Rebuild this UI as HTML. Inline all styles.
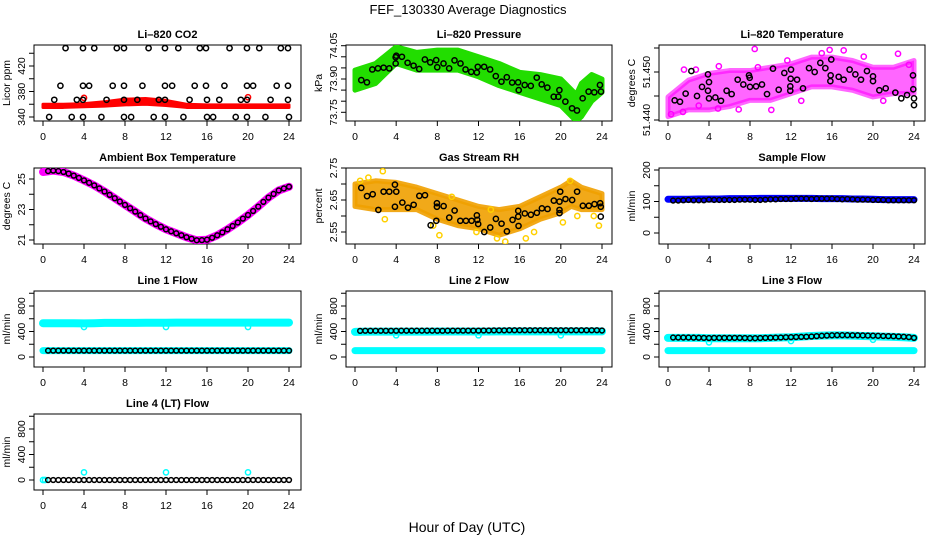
<!DOCTYPE html>
<html><head><meta charset="utf-8"><style>
html,body{margin:0;padding:0;background:#fff}
svg{display:block;font-family:"Liberation Sans",Arial,sans-serif}
.tt{font-weight:bold;font-size:11px}
.tk{font-size:10.5px}
</style></head><body>
<svg id="chart" width="936" height="540" viewBox="0 0 936 540">
<text x="468" y="14" text-anchor="middle" font-size="13">FEF_130330  Average Diagnostics</text>
<text x="467" y="532" text-anchor="middle" font-size="14">Hour of Day (UTC)</text>
</svg>
<script>
// ---------- data ----------
const H = [0.5,1,1.5,2,2.5,3,3.5,4,4.5,5,5.5,6,6.5,7,7.5,8,8.5,9,9.5,10,10.5,11,11.5,12,12.5,13,13.5,14,14.5,15,15.5,16,16.5,17,17.5,18,18.5,19,19.5,20,20.5,21,21.5,22,22.5,23,23.5,24];
const HR = [0,1,2,3,4,5,6,7,8,9,10,11,12,13,14,15,16,17,18,19,20,21,22,23,24];

// CO2
const co2BandHours = [0,2,4,6,8,10,12,14,16,18,20,22,24];
const co2BandLo = [355,355,356,357,359,360,358,355,355,355,355,355,355];
const co2BandHi = [360,360,361,364,368,369,366,360,359,359,359,359,359];
const co2TopH = [2.2,3.9,5.0,7.2,7.9,10.3,11.9,13.2,15.3,15.9,18.2,19.9,21.1,23.2,23.9];
const co2MidH = [1.7,3.9,4.5,6.8,7.9,9.7,11.9,12.6,14.8,15.9,17.7,19.9,20.5,22.8,23.9];
const co2LowH = [1.1,3.3,3.9,6.2,7.9,9.2,11.3,11.9,14.3,16.0,17.2,19.3,19.9,22.2,23.9];
const co2BotH = [0.6,2.8,3.9,5.7,7.9,8.6,10.8,11.9,13.7,16.0,16.6,18.8,19.9,21.7,24.0];
const co2Levels = [448,389,367,340];

// Pressure
const presBandH = [0,2,4,6,8,10,12,14,16,18,20,21.5,22,23,24];
const presHi = [73.94,73.97,74.045,74.02,74.03,74.03,74.0,73.97,73.93,73.92,73.9,73.83,73.88,73.92,73.9];
const presLo = [73.85,73.88,73.97,73.94,73.94,73.94,73.91,73.87,73.84,73.81,73.78,73.71,73.73,73.8,73.84];
const presPtH = [0.61,1.16,1.68,2.23,2.78,3.33,3.95,3.95,4.01,4.56,5.11,5.69,6.24,6.79,7.31,7.89,7.99,8.6,9.15,9.67,10.25,10.74,11.29,11.84,11.93,12.55,13.13,13.68,14.23,14.75,15.27,15.85,15.91,16.49,17.08,17.66,18.14,18.69,19.31,19.76,19.86,20.44,21.09,21.57,22.12,22.7,23.25,23.8,23.9];
const presPtV = [73.895,73.885,73.943,73.948,73.951,73.948,73.970,73.998,74.005,74.0,73.973,73.96,73.945,73.988,73.975,73.985,73.953,73.97,73.948,73.984,73.97,73.943,73.932,73.929,73.955,73.955,73.943,73.913,73.888,73.908,73.884,73.885,73.85,73.873,73.869,73.906,73.876,73.861,73.82,73.82,73.85,73.798,73.768,73.758,73.813,73.843,73.84,73.873,73.843];

// Li-820 temperature
const tBandH = [0,2,4,6,8,10,12,14,16,18,20,22,24];
const tHi = [51.4448,51.4483,51.4497,51.4503,51.4503,51.4510,51.4517,51.4531,51.4531,51.4524,51.4510,51.4510,51.4524];
const tLo = [51.4407,51.4421,51.4421,51.4428,51.4441,51.4441,51.4455,51.4469,51.4469,51.4462,51.4448,51.4455,51.4455];
const tOutH = [8.46,1.56,2.72,4.96,11.64,15.0,15.77,17.14,19.1,22.44,4.88,6.9,10.08,8.77,1.46,0.3,3.0,13.0,21.0,23.5];
const tOutV = [51.4548,51.4505,51.4505,51.4512,51.4524,51.4539,51.4546,51.4545,51.4532,51.4538,51.4424,51.4422,51.4421,51.4510,51.4417,51.4412,51.4430,51.4440,51.4440,51.4515];
const tPtH = [0.65,1.17,1.72,2.28,2.83,3.32,3.9,3.9,4.0,4.0,4.62,5.17,5.72,6.21,6.8,7.35,7.9,7.97,8.0,8.59,9.17,9.66,10.24,10.8,11.35,11.93,11.93,11.97,12.0,12.59,13.17,13.76,14.31,14.86,15.35,15.84,15.87,15.93,16.65,17.14,17.72,18.28,18.83,19.41,20.0,20.0,20.62,21.24,22.18,22.76,23.32,23.9,23.93,24.0,24.0];
const tPtV = [51.4441,51.4438,51.4455,51.4502,51.4450,51.4469,51.4495,51.4461,51.4479,51.4445,51.4447,51.4440,51.4461,51.4454,51.4484,51.4474,51.4493,51.4488,51.4469,51.4470,51.4474,51.4454,51.4507,51.4463,51.4498,51.4461,51.4470,51.4486,51.4505,51.4484,51.4466,51.4508,51.4500,51.4519,51.4508,51.4481,51.4493,51.4526,51.4490,51.4484,51.4505,51.4495,51.4484,51.4502,51.4491,51.4481,51.4462,51.4466,51.4457,51.4445,51.4452,51.4493,51.4464,51.4445,51.4431];

// Ambient box temperature
const ambHourly = [25.46,25.55,25.46,25.22,24.91,24.58,24.18,23.74,23.3,22.86,22.41,22.04,21.7,21.44,21.18,20.98,21.02,21.31,21.7,22.15,22.64,23.19,23.78,24.25,24.49];
const ambPts = [25.52,25.55,25.52,25.46,25.35,25.22,25.07,24.91,24.75,24.58,24.38,24.18,23.96,23.74,23.52,23.3,23.08,22.86,22.63,22.41,22.22,22.04,21.87,21.7,21.57,21.44,21.31,21.18,21.08,20.98,20.99,21.02,21.15,21.31,21.5,21.7,21.92,22.15,22.4,22.64,22.9,23.19,23.5,23.78,24.02,24.25,24.38,24.49];

// Gas stream RH
const rhBandH = [0,2,4,6,8,10,12,14,16,18,20,21,22,24];
const rhHi = [2.70,2.71,2.705,2.69,2.67,2.65,2.63,2.62,2.63,2.66,2.69,2.71,2.69,2.67];
const rhLo = [2.63,2.62,2.62,2.62,2.59,2.57,2.56,2.54,2.56,2.59,2.61,2.63,2.62,2.62];
const rhPtH = [0.61,1.17,1.72,2.27,2.78,3.33,3.88,3.88,4.01,4.6,5.15,5.7,6.25,6.8,7.35,7.9,7.96,7.96,8.61,9.16,9.68,10.23,10.78,11.33,11.84,11.88,11.97,12.56,13.14,13.69,14.24,14.76,15.31,15.86,15.86,15.89,16.5,17.09,17.67,18.16,18.71,19.32,19.87,19.87,19.87,19.94,20.45,21.1,21.58,22.14,22.72,23.27,23.82,23.88,23.88];
const rhPtV = [2.688,2.662,2.668,2.619,2.676,2.676,2.698,2.629,2.676,2.642,2.626,2.635,2.663,2.665,2.571,2.585,2.64,2.629,2.631,2.595,2.617,2.585,2.585,2.585,2.602,2.588,2.575,2.55,2.564,2.591,2.576,2.552,2.588,2.616,2.598,2.569,2.608,2.604,2.61,2.624,2.622,2.648,2.645,2.619,2.609,2.676,2.653,2.65,2.676,2.632,2.632,2.637,2.64,2.629,2.598];
const rhOutH = [0.5,1.3,2.7,2.9,7.6,8.2,9.4,11.8,13.2,13.8,14.6,16.6,17.4,20.2,20.9,21.6,23.2,23.7];
const rhOutV = [2.71,2.72,2.74,2.59,2.57,2.54,2.66,2.55,2.62,2.53,2.52,2.53,2.55,2.58,2.71,2.60,2.60,2.57];

// Sample flow
const sfBlue = [107,107,107,108,108,108,109,109,109,110,110,110,110,110,110,109,109,109,108,108,107,106,106,106,106];
const sfPts = [103,103,104,105,104,104,104,106,105,105,105,105,105,106,106,106,105,105,106,107,107,108,108,108,109,109,109,108,109,109,109,109,108,107,108,107,106,106,106,105,105,105,104,104,104,104,104,104];

// Line flows
const l1Cyan = [530,530,530,530,528,530,535,535,535,535,538,538,538,540,540,540,540,540,540,540,540,540,540,540,540];
const l1Low = [100,100,100,100,100,100,100,100,100,100,100,100,100,100,100,100,100,100,100,100,100,100,100,100,100];
const l1Pts = [100,100,100,100,100,100,100,100,100,100,100,100,100,100,100,100,100,100,100,100,100,100,100,100,100,100,100,100,100,100,100,100,100,100,100,100,100,100,100,100,100,100,100,100,100,100,100,100];
const l1DipH = [4,12,20];
const l1DipV = [470,470,470];
const l2Cyan = [395,398,398,398,398,398,398,398,400,400,400,400,400,400,402,402,402,402,402,402,402,402,402,402,402];
const l2Pts = [410,412,412,412,412,412,412,412,413,413,413,413,413,413,413,412,412,413,414,414,414,414,414,414,416,416,418,418,418,420,420,420,420,420,420,420,420,420,420,420,420,420,420,420,420,420,420,415];
const l2DipH = [4,12,20];
const l2DipV = [340,340,340];
const l3Cyan = [300,300,300,300,295,295,295,295,295,295,300,305,310,320,330,335,340,340,335,330,325,320,315,310,300];
const l3Pts = [305,305,305,305,303,302,300,298,300,300,300,300,300,300,298,295,295,298,300,302,304,306,310,312,314,316,318,322,328,332,336,340,342,342,342,341,340,338,336,334,332,330,328,326,322,318,312,300];
const l3DipH = [4,12,20];
const l3DipV = [230,250,270];
const l4Pts = [0,0,0,0,0,0,0,0,0,0,0,0,0,0,0,0,0,0,0,0,0,0,0,0,0,0,0,0,0,0,0,0,0,0,0,0,0,0,0,0,0,0,0,0,0,0,0,0];
const l4SpikeH = [4,12,20];
const l4SpikeV = [120,120,120];

// ---------- drawing ----------
const NS = "http://www.w3.org/2000/svg";
const svg = document.getElementById('chart');
const cols = [{b0:34,b1:301,x0:43,x1:289},{b0:346,b1:612,x0:355,x1:602},{b0:659,b1:925,x0:668,x1:914}];
const tops = [45,168,291,414];
const BH = 76;
function mk(tag, attrs, parent){const e=document.createElementNS(NS,tag);for(const k in attrs)e.setAttribute(k,attrs[k]);(parent||svg).appendChild(e);return e;}

function panel(r,c,title,ylab,yref,ticks,labels,name){
  const col=cols[c], top=tops[r], bot=top+BH;
  const g=mk('g',{});
  
  
  const xs=h=>col.x0+(col.x1-col.x0)*h/24;
  const [v0,p0,v1,p1]=yref;
  const ys=v=>top+p0+(v-v0)*(p1-p0)/(v1-v0);
  const t=mk('text',{x:(col.b0+col.b1)/2,y:top-7,'text-anchor':'middle','class':'tt'},g);
  t.textContent=title;
  
  
  const yl=mk('text',{transform:`translate(${col.b0-24},${top+BH/2}) rotate(-90)`,'text-anchor':'middle','font-size':'10.5'},g);
  yl.textContent=ylab;
  
  
  const ax=mk('g',{stroke:'#000','stroke-width':1,fill:'none'},g);
  
  
  mk('rect',{x:col.b0,y:top,width:col.b1-col.b0,height:BH},ax);
  [0,4,8,12,16,20,24].forEach(h=>{
    mk('line',{x1:xs(h),x2:xs(h),y1:bot,y2:bot+5},ax);
    const tl=mk('text',{x:xs(h),y:bot+19,'text-anchor':'middle','class':'tk'},g);
    tl.textContent=h;
    
    
  });
  ticks.forEach(v=>{mk('line',{x1:col.b0-5,x2:col.b0,y1:ys(v),y2:ys(v)},ax);});
  labels.forEach(v=>{
    const tl=mk('text',{transform:`translate(${col.b0-9},${ys(v)}) rotate(-90)`,'text-anchor':'middle','class':'tk'},g);
    tl.textContent=v;
    
    
  });
  const clip='clip'+r+c;
  const cp=mk('clipPath',{id:clip},g);mk('rect',{x:col.b0,y:top,width:col.b1-col.b0,height:BH},cp);
  const plot=mk('g',{'clip-path':`url(#${clip})`},g);
  
  
  return {xs,ys,plot,name};
}
function rings(P,hs,vs,color,sname,r){
  hs.forEach((h,i)=>{
    const e=mk('circle',{cx:P.xs(h),cy:P.ys(vs[i]),r:r||2.6,fill:'none',stroke:color,'stroke-width':1.5},P.plot);
    
    
  });
}
function band(P,hs,hi,lo,fill,sname,op,sw){
  let d='M'+hs.map((h,i)=>P.xs(h)+','+P.ys(hi[i])).join('L');
  d+='L'+hs.slice().reverse().map((h,i)=>P.xs(h)+','+P.ys(lo[lo.length-1-i])).join('L')+'Z';
  const e=mk('path',{d,fill,stroke:fill,'stroke-width':sw||5,'stroke-linejoin':'round','fill-opacity':op||1,'stroke-opacity':op||1},P.plot);
  
  
}
function thick(P,hs,vs,color,w,sname){
  const e=mk('polyline',{points:hs.map((h,i)=>P.xs(h)+','+P.ys(vs[i])).join(' '),fill:'none',stroke:color,'stroke-width':w,'stroke-linejoin':'round','stroke-linecap':'round'},P.plot);
  
  
}

// Panel 1 CO2
let P=panel(0,0,'Li–820 CO2','Licor ppm',[340,72,420,21],[340,360,380,400,420,440],[340,380,420],'co2');
band(P,co2BandHours,co2BandHi,co2BandLo,'#ff0000','red',1,3);
rings(P,[4.0,20.0],[370,371],'#ff0000','red-outlier');
rings(P,co2TopH,co2TopH.map(()=>co2Levels[0]),'#000','top');
rings(P,co2MidH,co2MidH.map(()=>co2Levels[1]),'#000','mid');
rings(P,co2LowH,co2LowH.map(()=>co2Levels[2]),'#000','low');
rings(P,co2BotH,co2BotH.map(()=>co2Levels[3]),'#000','bottom');

// Panel 2 pressure
P=panel(0,1,'Li–820 Pressure','kPa',[73.75,67.3,74.05,0.7],[73.75,73.80,73.85,73.90,73.95,74.00,74.05],['73.75','73.90','74.05'],'pressure');
band(P,presBandH,presHi,presLo,'#22dd00','green');
rings(P,presPtH,presPtV,'#000','black');

// Panel 3 temperature
P=panel(0,2,'Li–820 Temperature','degrees C',[51.44,75,51.45,27],[51.440,51.445,51.450,51.455],['51.440','51.450'],'temperature');
band(P,tBandH,tHi,tLo,'#ff00ff','magenta',0.6);
rings(P,tOutH,tOutV,'#ff00ff','magenta-outlier');
rings(P,tPtH,tPtV,'#000','black');

// Panel 4 ambient
P=panel(1,0,'Ambient Box Temperature','degrees C',[25,11,21,72],[21,22,23,24,25],[21,23,25],'ambient');
thick(P,HR,ambHourly,'#ff00ff',8,'magenta');
rings(P,H,ambPts,'#000','black',2.4);

// Panel 5 RH
P=panel(1,1,'Gas Stream RH','percent',[2.75,0,2.55,64],[2.55,2.60,2.65,2.70,2.75],['2.55','2.65','2.75'],'rh');
band(P,rhBandH,rhHi,rhLo,'#f0a000','orange',0.9);
rings(P,rhOutH,rhOutV,'#ffd000','yellow-outlier');
rings(P,rhPtH,rhPtV,'#000','black');

// Panel 6 sample flow
P=panel(1,2,'Sample Flow','ml/min',[200,2,0,65],[0,50,100,150,200],[0,100,200],'sample-flow');
thick(P,HR,sfBlue,'#0000ff',7,'blue');
rings(P,H,sfPts,'#000','black',2.4);

// Line 1
const fTicks=[0,200,400,600,800,1000], fLab=[0,400,800];
P=panel(2,0,'Line 1 Flow','ml/min',[0,66,800,15],fTicks,fLab,'line1');
thick(P,HR,l1Cyan,'#00ffff',8,'cyan-high');
rings(P,l1DipH,l1DipV,'#00ffff','cyan-dip');
thick(P,HR,l1Low,'#00ffff',7,'cyan-low');
rings(P,H,l1Pts,'#000','black',2.4);

// Line 2
P=panel(2,1,'Line 2 Flow','ml/min',[0,66,800,15],fTicks,fLab,'line2');
thick(P,HR,l2Cyan,'#00ffff',8,'cyan-high');
rings(P,l2DipH,l2DipV,'#00ffff','cyan-dip');
thick(P,HR,l1Low,'#00ffff',7,'cyan-low');
rings(P,H,l2Pts,'#000','black',2.4);

// Line 3
P=panel(2,2,'Line 3 Flow','ml/min',[0,66,800,15],fTicks,fLab,'line3');
thick(P,HR,l3Cyan,'#00ffff',8,'cyan-high');
rings(P,l3DipH,l3DipV,'#00ffff','cyan-dip');
thick(P,HR,l1Low,'#00ffff',7,'cyan-low');
rings(P,H,l3Pts,'#000','black',2.4);

// Line 4
P=panel(3,0,'Line 4 (LT) Flow','ml/min',[0,66,800,15],fTicks,fLab,'line4');
rings(P,[0,0.2],[0,0],'#00ffff','cyan-start');
rings(P,l4SpikeH,l4SpikeV,'#00ffff','cyan-spike');
rings(P,H,l4Pts,'#000','black',2.4);
</script>
</body></html>
